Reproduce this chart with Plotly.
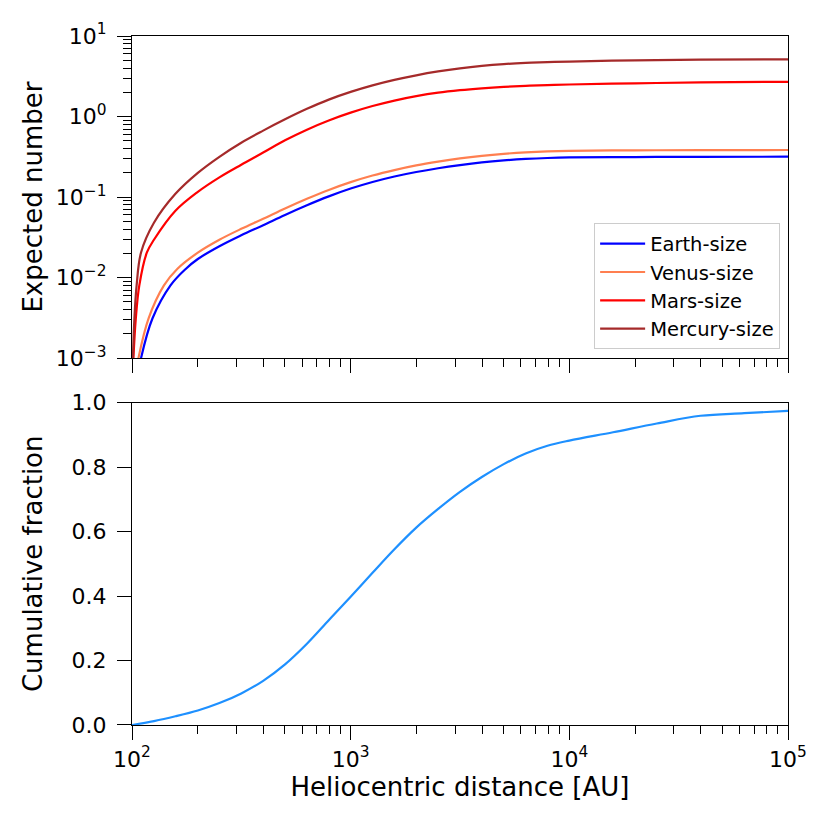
import plotly.graph_objects as go

# --- data ---
# top panel: expected number of planets vs heliocentric distance [AU]
earth_d = [110, 124, 150, 176, 200, 251, 316, 398, 501, 631, 794, 1000, 1259, 1585, 1995, 2512,
           3162, 3981, 5012, 6310, 7943, 10000, 19950, 39810, 100000]
earth_n = [0.001, 0.0031, 0.008, 0.0128, 0.0170, 0.0245, 0.0335, 0.0447, 0.0600, 0.0791, 0.1019,
           0.1274, 0.1538, 0.1799, 0.2046, 0.2280, 0.2495, 0.2692, 0.2851, 0.2972, 0.3055, 0.3105,
           0.3141, 0.3155, 0.317]

venus_d = [107, 119, 140, 161, 200, 251, 316, 398, 501, 631, 794, 1000, 1259, 1585, 1995, 2512,
           3162, 3981, 5012, 6310, 7943, 10000, 19950, 39810, 100000]
venus_n = [0.001, 0.0031, 0.008, 0.0128, 0.0204, 0.0295, 0.0403, 0.0537, 0.0721, 0.0951, 0.1225,
           0.1531, 0.1849, 0.2163, 0.2472, 0.2754, 0.302, 0.3251, 0.3443, 0.3589, 0.3690, 0.3750,
           0.3802, 0.3819, 0.384]

mars_d = [101.5, 104, 108, 117, 126, 158, 200, 251, 316, 398, 501, 631, 794, 1000, 1259, 1585,
          1995, 2512, 3162, 3981, 5012, 6310, 7943, 10000, 19950, 39810, 100000]
mars_n = [0.001, 0.003, 0.008, 0.0205, 0.0295, 0.0676, 0.1161, 0.1758, 0.2523, 0.3573, 0.507, 0.687,
          0.893, 1.117, 1.349, 1.578, 1.791, 1.977, 2.123, 2.239, 2.333, 2.404, 2.460, 2.500,
          2.582, 2.655, 2.70]

mercury_d = [101, 102.5, 105, 110, 126, 158, 200, 251, 316, 398, 501, 631, 794, 1000, 1259, 1585,
             1995, 2512, 3162, 3981, 5012, 6310, 7943, 10000, 19950, 39810, 100000]
mercury_n = [0.001, 0.003, 0.008, 0.0205, 0.0479, 0.1096, 0.1995, 0.316, 0.473, 0.668, 0.923, 1.245,
             1.622, 2.023, 2.438, 2.851, 3.251, 3.631, 3.972, 4.256, 4.477, 4.634, 4.742, 4.819,
             4.989, 5.093, 5.14]

# bottom panel: cumulative fraction
cum_d = [100, 126, 158, 200, 251, 316, 398, 501, 631, 794, 1000, 1259, 1585, 1995, 2512, 3162,
         3981, 5012, 6310, 7943, 10000, 15850, 25120, 39810, 63100, 100000]
cum_f = [0.0, 0.012, 0.027, 0.045, 0.068, 0.098, 0.137, 0.188, 0.252, 0.325, 0.398, 0.472, 0.545,
         0.612, 0.670, 0.723, 0.769, 0.809, 0.842, 0.866, 0.882, 0.908, 0.935, 0.959, 0.967, 0.974]

# tick labels
x_tickvals = [100, 1000, 10000, 100000]
x_ticktext = ["10<sup>2</sup>", "10<sup>3</sup>", "10<sup>4</sup>", "10<sup>5</sup>"]
y_tickvals = [0.001, 0.01, 0.1, 1, 10]
y_ticktext = ["10<sup>\u22123</sup>", "10<sup>\u22122</sup>", "10<sup>\u22121</sup>", "10<sup>0</sup>", "10<sup>1</sup>"]
f_tickvals = [0.0, 0.2, 0.4, 0.6, 0.8, 1.0]
f_ticktext = ["0.0", "0.2", "0.4", "0.6", "0.8", "1.0"]

FONT = "DejaVu Sans"

fig = go.Figure()

for d, n, name, col in [(earth_d, earth_n, "Earth-size", "#0000ff"),
                        (venus_d, venus_n, "Venus-size", "#ff7f50"),
                        (mars_d, mars_n, "Mars-size", "#ff0000"),
                        (mercury_d, mercury_n, "Mercury-size", "#a52a2a")]:
    fig.add_trace(go.Scatter(x=d, y=n, mode="lines", name=name,
                             line=dict(color=col, width=2.2, shape="spline", smoothing=1.0),
                             xaxis="x", yaxis="y"))

fig.add_trace(go.Scatter(x=cum_d, y=cum_f, mode="lines", showlegend=False,
                         line=dict(color="#1e90ff", width=2.2, shape="spline", smoothing=1.0),
                         xaxis="x2", yaxis="y2"))

axis_common = dict(showline=True, linecolor="black", linewidth=1.3, mirror=True,
                   ticks="outside", ticklen=14, tickwidth=1.3, tickcolor="black",
                   showgrid=False, zeroline=False,
                   tickfont=dict(family=FONT, size=22, color="black"))
minor_log = dict(ticks="outside", ticklen=8, tickwidth=1.1, tickcolor="black",
                 dtick="D1", showgrid=False)

# page body adds an 8px offset, margins compensate
fig.update_layout(
    width=830, height=830,
    paper_bgcolor="white", plot_bgcolor="white",
    margin=dict(l=124, r=50, t=24, b=113),
    font=dict(family=FONT, color="black"),
    xaxis=dict(type="log", range=[2, 5], domain=[0, 1], anchor="y",
               tickvals=x_tickvals, ticktext=x_ticktext, showticklabels=False,
               minor=minor_log, **axis_common),
    yaxis=dict(type="log", range=[-3, 1], domain=[0.5325, 1], anchor="x",
               tickvals=y_tickvals, ticktext=y_ticktext, minor=minor_log, ticklabelstandoff=6,
               title=dict(text="Expected number", font=dict(family=FONT, size=26), standoff=5),
               **axis_common),
    xaxis2=dict(type="log", range=[2, 5], domain=[0, 1], anchor="y2",
                tickvals=x_tickvals, ticktext=x_ticktext, minor=minor_log,
                title=dict(text="Heliocentric distance [AU]", font=dict(family=FONT, size=26), standoff=4),
                **axis_common),
    yaxis2=dict(range=[0, 1], domain=[0, 0.468], anchor="x2",
                tickvals=f_tickvals, ticktext=f_ticktext, ticklabelstandoff=6,
                title=dict(text="Cumulative fraction", font=dict(family=FONT, size=26), standoff=21),
                **axis_common),
    legend=dict(x=0.988, y=0.545, xanchor="right", yanchor="bottom", itemwidth=45,
                bgcolor="rgba(255,255,255,0.8)", bordercolor="#cccccc", borderwidth=1,
                font=dict(family=FONT, size=19.5, color="black")),
)

fig.write_html("out.html")
